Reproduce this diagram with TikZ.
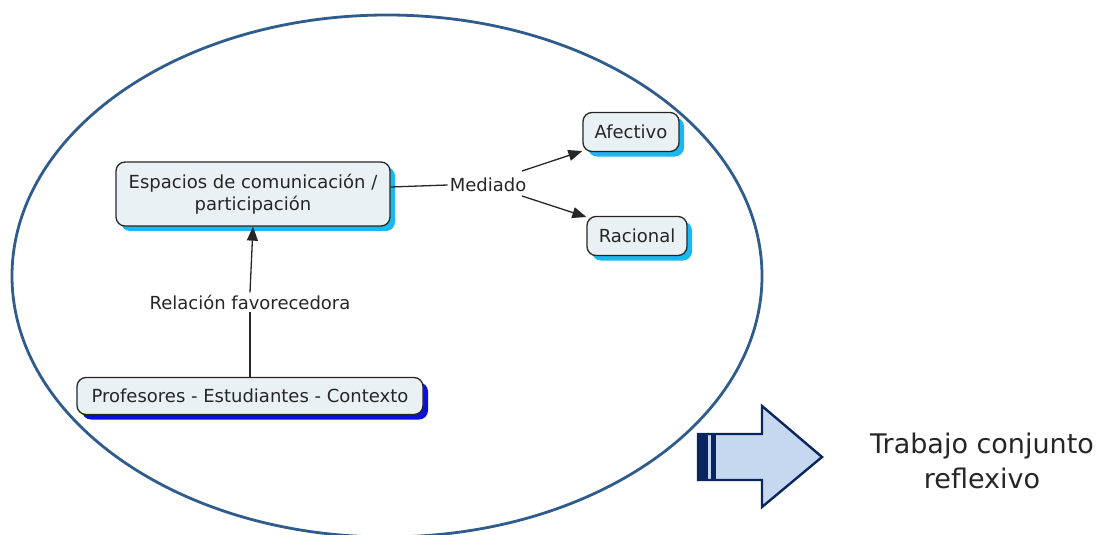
\documentclass[tikz,border=0pt]{standalone}
\usepackage{fontspec}
\setmainfont{DejaVu Sans}
\usetikzlibrary{arrows.meta,shadows}
\definecolor{ringblue}{HTML}{2F5C8C}
\definecolor{nodefill}{HTML}{EAF1F4}
\definecolor{cyanshadow}{HTML}{1AB8F0}
\definecolor{blueshadow}{HTML}{0A10D8}
\definecolor{navy}{HTML}{0B2561}
\definecolor{paleblue}{HTML}{C6D8EF}
\begin{document}
\begin{tikzpicture}[x=1pt,y=-1pt,
  concept/.style={draw=black!85, line width=1.3pt, rounded corners=9pt, fill=nodefill,
    align=center, inner sep=0pt, text=black!85,
    font=\fontsize{18}{21.5}\selectfont},
  cyanshade/.style={general shadow={fill=cyanshadow, shadow xshift=5pt, shadow yshift=-5pt}},
  blueshade/.style={general shadow={fill=blueshadow, shadow xshift=5pt, shadow yshift=-5pt}},
  linklabel/.style={inner sep=2pt, text=black!85, font=\fontsize{18}{21}\selectfont},
  link/.style={line width=1.3pt, draw=black!85},
  linkarrow/.style={link, -{Triangle[length=14pt,width=11pt]}}
]
\useasboundingbox (0,0) rectangle (1100,535);

% enclosing ring
\draw[ringblue, line width=2.8pt] (387,276) ellipse [x radius=375, y radius=261];

% concepts
\node[concept, cyanshade, minimum width=274pt, minimum height=64pt] (esp) at (253,194)
  {Espacios de comunicación /\\participación};
\node[concept, cyanshade, minimum width=96pt, minimum height=39pt] (afe) at (631,132) {Afectivo};
\node[concept, cyanshade, minimum width=100pt, minimum height=39pt] (rac) at (637,236) {Racional};
\node[concept, blueshade, minimum width=346pt, minimum height=37pt] (pro) at (250,396)
  {Profesores - Estudiantes - Contexto};

% linking phrases
\node[linklabel] (med) at (488,185) {Mediado};
\node[linklabel] (rel) at (250,302) {Relación favorecedora};

% connectors
\coordinate (m1) at (522,171);
\coordinate (m2) at (522,196);
\draw[link] (esp.east |- 0,187) -- (med.west);
\draw[linkarrow] (m1) -- (afe.west |- 0,151);
\draw[linkarrow] (m2) -- (rac.west |- 0,217);
\draw[link] (pro.north) -- (rel.south);
\draw[linkarrow] (rel.north) -- (esp.south);

% block arrow
\draw[navy, line width=2.4pt, fill=paleblue, line join=miter]
  (698,434) -- (762,434) -- (762,406) -- (822,457) -- (762,507) -- (762,480) -- (698,480) -- cycle;
\fill[navy] (697,433) rectangle (708,481);
\fill[navy] (711,433) rectangle (716,481);

% caption
\node[align=center, text=black!85, font=\fontsize{27}{35}\selectfont] (cap) at (982,461)
  {Trabajo conjunto\\reflexivo};
\end{tikzpicture}
\end{document}
